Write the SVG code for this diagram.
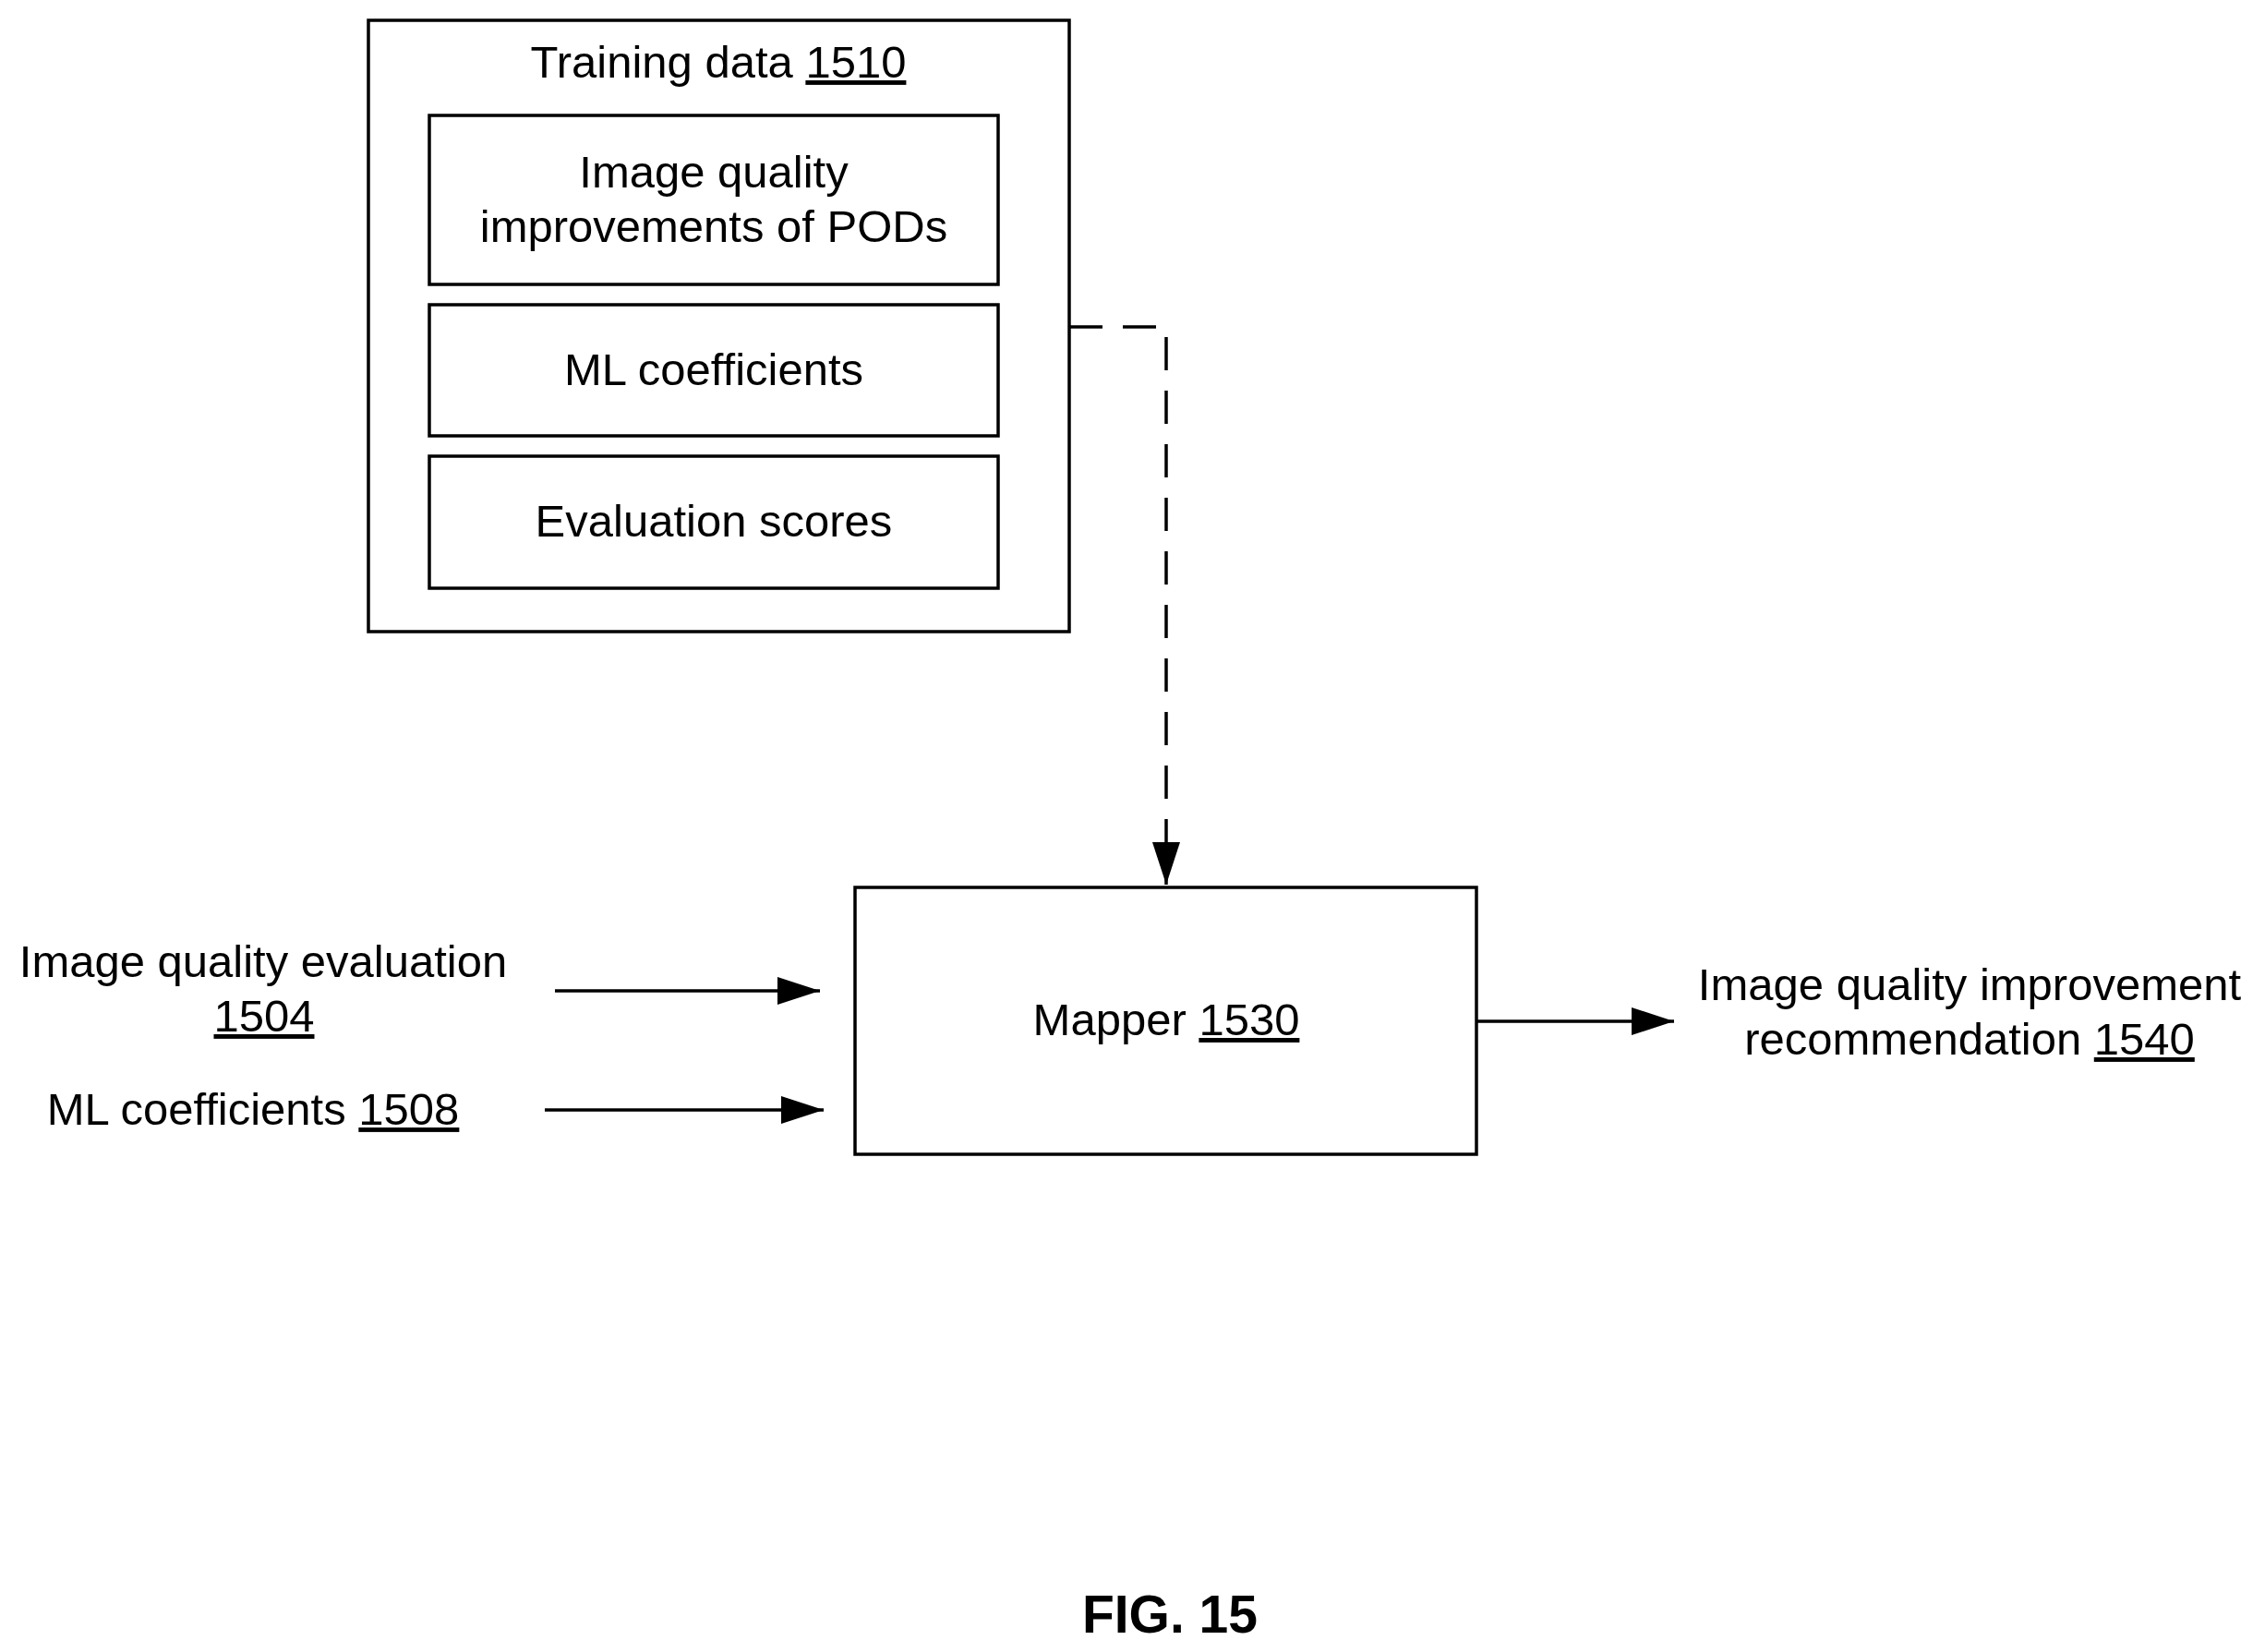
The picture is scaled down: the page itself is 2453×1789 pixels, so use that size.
<svg xmlns="http://www.w3.org/2000/svg" width="2453" height="1789" viewBox="0 0 2453 1789">
<style>
.b{fill:none;stroke:#000;stroke-width:3.5}
.t{font-family:"Liberation Sans",Arial,sans-serif;font-size:49px;fill:#000;text-anchor:middle}
.u{text-decoration:underline}
.c{fill:none;stroke:#000;stroke-width:3.5}
</style>
<defs>
<marker id="A" viewBox="0 0 46 30" refX="46" refY="15" markerWidth="46" markerHeight="30" orient="auto" markerUnits="userSpaceOnUse">
<path d="M0,0 L46,15 L0,30 z" fill="#000"/>
</marker>
</defs>
<rect width="2453" height="1789" fill="#fff"/>
<g id="training">
<rect class="b" x="399" y="22" width="759" height="662"/>
<text class="t" x="778" y="84">Training data <tspan class="u">1510</tspan></text>
</g>
<g id="iq-improvements">
<rect class="b" x="465" y="125" width="616" height="183"/>
<text class="t" x="773" y="203">Image quality</text>
<text class="t" x="773" y="262">improvements of PODs</text>
</g>
<g id="ml-coeff">
<rect class="b" x="465" y="330" width="616" height="142"/>
<text class="t" x="773" y="417">ML coefficients</text>
</g>
<g id="eval-scores">
<rect class="b" x="465" y="494" width="616" height="143"/>
<text class="t" x="773" y="581">Evaluation scores</text>
</g>
<g id="mapper">
<rect class="b" x="926" y="961" width="673" height="289"/>
<text class="t" x="1263" y="1121">Mapper <tspan class="u">1530</tspan></text>
</g>
<g id="in1">
<text class="t" x="285" y="1058">Image quality evaluation</text>
<text class="t u" x="286" y="1117">1504</text>
</g>
<g id="in2">
<text class="t" x="274" y="1218">ML coefficients <tspan class="u">1508</tspan></text>
</g>
<g id="out">
<text class="t" x="2133" y="1083">Image quality improvement</text>
<text class="t" x="2133" y="1142">recommendation <tspan class="u">1540</tspan></text>
</g>
<g id="connectors">
<path class="c" d="M1158,354 H1263 V958" stroke-dasharray="36,22" marker-end="url(#A)"/>
<line class="c" x1="601" y1="1073" x2="888" y2="1073" marker-end="url(#A)"/>
<line class="c" x1="590" y1="1202" x2="892" y2="1202" marker-end="url(#A)"/>
<line class="c" x1="1599" y1="1106" x2="1813" y2="1106" marker-end="url(#A)"/>
</g>
<text x="1267" y="1768" style="font-family:'Liberation Sans',Arial,sans-serif;font-size:57px;font-weight:bold;text-anchor:middle">FIG. 15</text>
</svg>
